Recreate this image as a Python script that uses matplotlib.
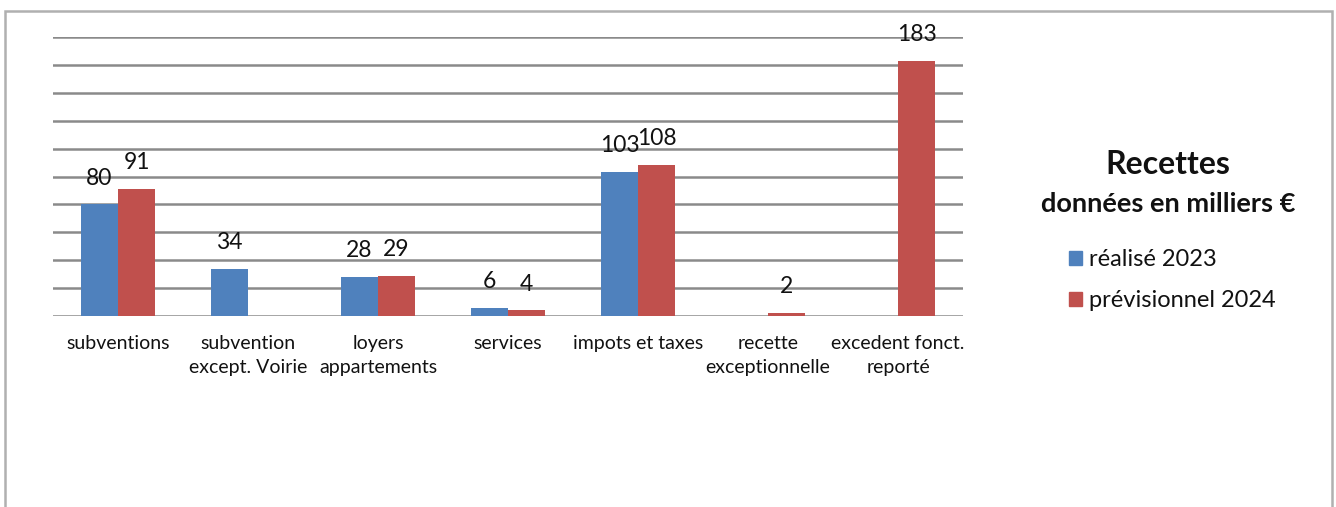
import numpy as np
import matplotlib
matplotlib.use("Agg")
from matplotlib import pyplot as plt
from matplotlib.patches import Rectangle, Patch

plt.rcParams['font.family'] = ['Lato', 'DejaVu Sans']

categories = ['subventions', 'subvention\nexcept. Voirie', 'loyers\nappartements',
              'services', 'impots et taxes', 'recette\nexceptionnelle',
              'excedent fonct.\nreporté']
realise_2023 = [80, 34, 28, 6, 103, 0, 0]
previsionnel_2024 = [91, 0, 29, 4, 108, 2, 183]
series_names = ['réalisé 2023', 'prévisionnel 2024']

bleu = '#4F81BD'
rouge = '#C0504D'

fig = plt.figure(figsize=(13.36, 5.07), dpi=100)
ax = fig.add_axes([53/1336, 1-316/507, 910/1336, 279/507])

x = np.arange(len(categories))
w = 0.285
b1 = ax.bar(x - w/2, realise_2023, w, color=bleu, zorder=3)
b2 = ax.bar(x + w/2, previsionnel_2024, w, color=rouge, zorder=3)

# etiquettes de valeurs
for barres, vals in [(b1, realise_2023), (b2, previsionnel_2024)]:
    for barre, v in zip(barres, vals):
        if v == 0:
            continue
        ax.annotate(str(v), (barre.get_x() + barre.get_width()/2, v),
                    xytext=(0, 19), textcoords='offset points',
                    ha='center', va='center', fontsize=16.5, color='#111111',
                    annotation_clip=False)

ax.set_xlim(-0.5, len(categories) - 0.5)
ax.set_ylim(0, 200)
ax.set_yticks(np.arange(0, 201, 20))
ax.yaxis.grid(True, color='#8a8a8a', linewidth=1.8, zorder=0)
ax.set_yticklabels([])
ax.tick_params(axis='y', length=0)
ax.set_xticks(x)
ax.set_xticklabels(categories, fontsize=14, color='#111111', linespacing=1.45)
ax.tick_params(axis='x', length=0, pad=14)
for s in ax.spines.values():
    s.set_visible(False)

# titre et legende a droite
fig.text(1168/1336, 1-165/507, 'Recettes', ha='center', va='center',
         fontsize=23, fontweight='bold', color='#111111')
fig.text(1168/1336, 1-204/507, 'données en milliers €', ha='center', va='center',
         fontsize=19.5, fontweight='bold', color='#111111')
poignees = [Patch(color=bleu), Patch(color=rouge)]
fig.legend(poignees, series_names, loc='upper left',
           bbox_to_anchor=(1048/1336, 1-228/507), frameon=False, fontsize=17,
           handlelength=0.55, handleheight=0.55, handletextpad=0.3,
           labelspacing=0.85, labelcolor='#111111')

# cadre gris
fig.patches.append(Rectangle((5/1336, -0.05), 1327/1336, 1.05 - 11/507,
                             transform=fig.transFigure, fill=False,
                             edgecolor='#b0b0b0', linewidth=1.8))

fig.savefig('out.png', dpi=100)
